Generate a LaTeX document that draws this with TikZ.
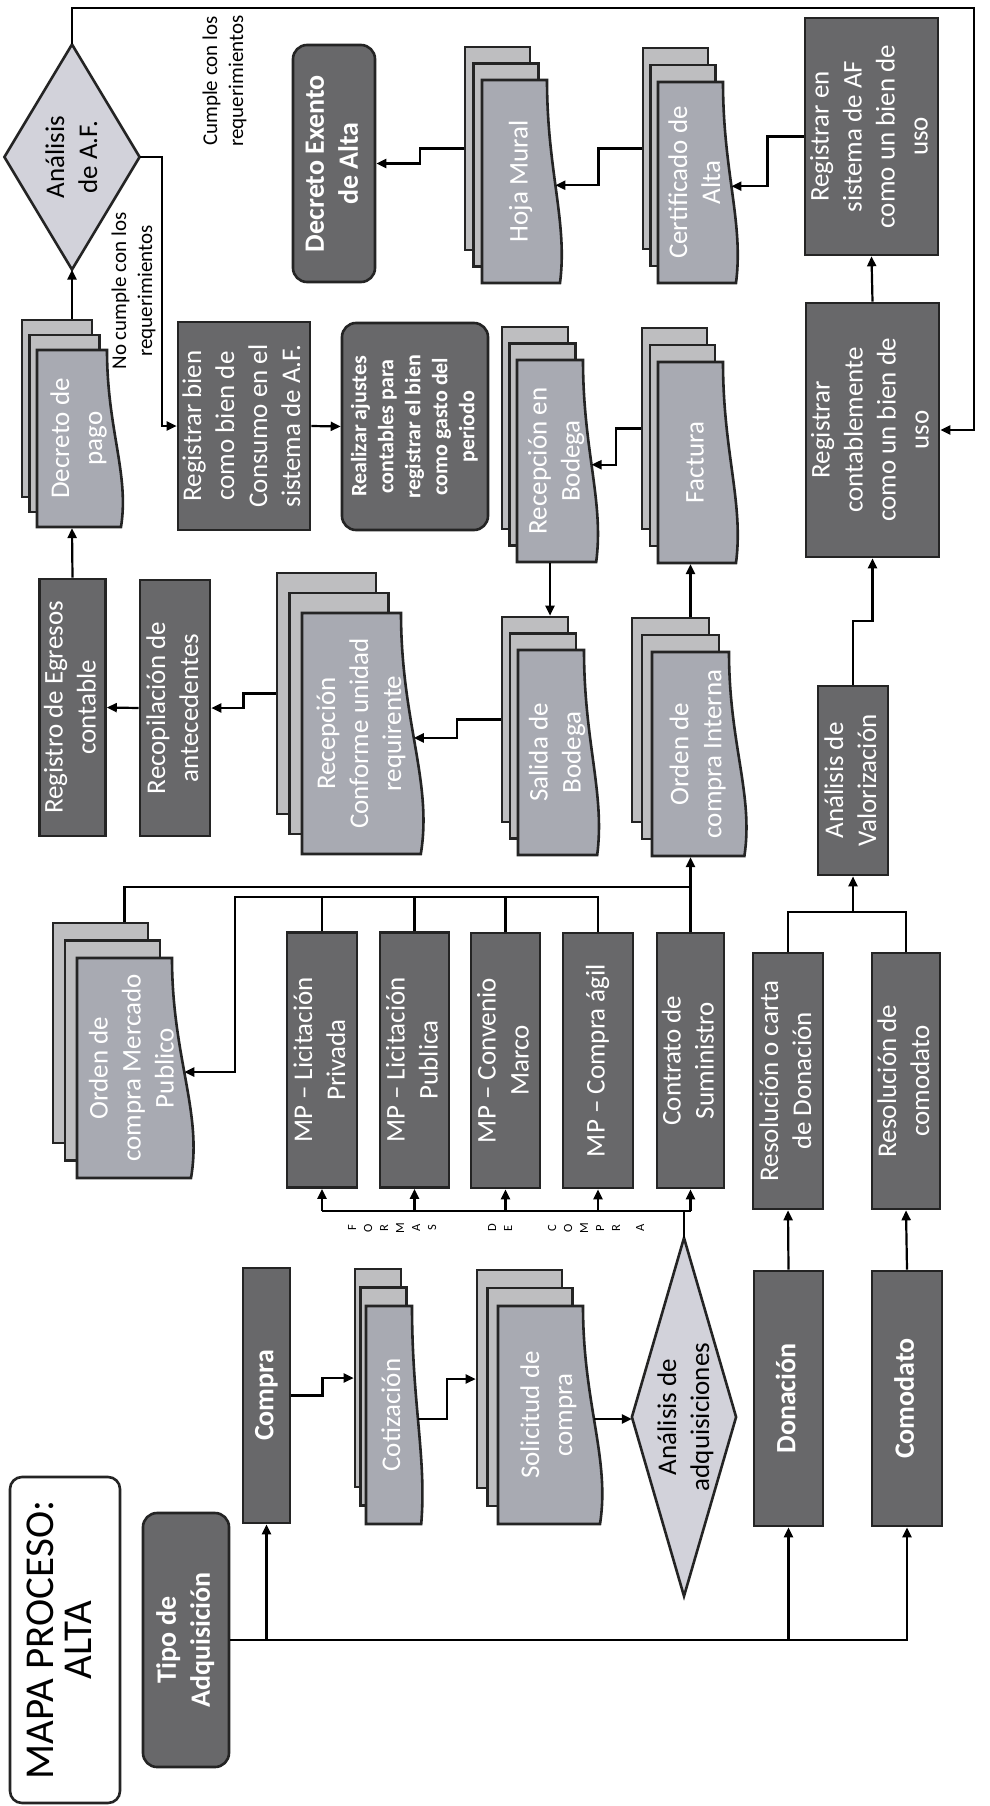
\documentclass[tikz,border=0pt]{standalone}
\usepackage{fontspec}
\setmainfont{Carlito}
\usepackage{graphicx}
\usetikzlibrary{arrows.meta,calc}

\definecolor{boxgray}{RGB}{104,104,106}
\definecolor{docgray}{RGB}{168,170,178}
\definecolor{pagegray}{RGB}{190,190,192}
\definecolor{diagray}{RGB}{210,210,218}
\definecolor{edge}{RGB}{36,36,36}

\newcommand{\vt}[1]{\rotatebox{90}{\begin{tabular}{@{}c@{}}#1\end{tabular}}}
% stack of three pages: name, front x1, y1, x2, y2, page offset dx, dy, text
\newcommand{\docstack}[8]{%
  \pgfmathsetmacro{\docw}{#4-#2}%
  \pgfmathsetmacro{\doch}{#5-#3}%
  \pgfmathsetmacro{\doce}{0.2*\docw}%
  \node[page, sz={\docw}{\doch}] (#1-b) at ({(#2+#4)/2-2*#6},{(#3+#5)/2-2*#7}) {};
  \node[page, sz={\docw}{\doch}] (#1-m) at ({(#2+#4)/2-#6},{(#3+#5)/2-#7}) {};
  \draw[docfront] (#2,#3) -- (#4,#3)
    .. controls (#4,{#3+0.45*\doch}) and ({#4+1.6*\doce},{#3+0.7*\doch})
    .. node[coordinate, pos=0.46] (#1-w) {} ({#4+\doce},#5) -- (#2,#5) -- cycle;
  \node[inner sep=0pt, sz={\docw}{\doch}] (#1) at ({(#2+#4)/2},{(#3+#5)/2}) {};
  \node[doctext] (#1-t) at ({(#2+#4)/2+\doce/2},{(#3+#5)/2}) {\vt{#8}};
}

\begin{document}
\begin{tikzpicture}[
  x=1pt, y=-1pt,
  >={Triangle[length=10pt,width=9pt]},
  line width=2.2pt,
  font=\fontsize{27}{33}\selectfont,
  sz/.style 2 args={minimum width=#1pt, minimum height=#2pt},
  box/.style={draw=edge, line width=2.6pt, fill=boxgray, text=white, inner sep=0pt},
  rbox/.style={box, rounded corners=14pt},
  btxt/.style={font=\fontsize{28}{34}\selectfont\bfseries},
  page/.style={draw=edge, line width=2.6pt, fill=pagegray, inner sep=0pt},
  docfront/.style={draw=edge, line width=2.6pt, fill=docgray},
  doctext/.style={text=white, inner sep=0pt},
  dia/.style={draw=edge, line width=2.6pt, fill=diagray},
  lab/.style={text=black, inner sep=0pt},
  hvh/.style={to path={-| ($(\tikztostart)!0.5!(\tikztotarget)$) |- (\tikztotarget) \tikztonodes}}
]
\path[use as bounding box, fill=white] (0,0) rectangle (989,1806);

\node[rbox, sz={110}{326}, fill=white, text=black, rounded corners=12pt,
      font=\fontsize{41}{38}\selectfont] (mapa) at (65,1640) {\vt{MAPA PROCESO:\\ALTA}};
\node[rbox, btxt, sz={86}{254}] (tipo) at (186,1640) {\vt{Tipo de\\Adquisición}};
\node[box, btxt, sz={47}{255}] (compra) at (266.5,1395.5) {\vt{Compra}};
\node[box, btxt, sz={69}{255}] (donacion) at (788.5,1398.5) {\vt{Donación}};
\node[box, btxt, sz={70}{255}] (comodato) at (907,1398.5) {\vt{Comodato}};

\docstack{coti}{366}{1306}{412}{1524}{5.5}{18.5}{Cotización}
\docstack{sol}{498}{1306}{583}{1524}{10.5}{18}{Solicitud de\\compra}

\node[inner sep=0pt, sz={102}{356}] (adq) at (684,1417) {};
\draw[dia] (adq.north) -- (adq.east) -- (adq.south) -- (adq.west) -- cycle;
\node[lab] (adq-t) at (686,1417) {\vt{Análisis de\\adquisiciones}};

\node[box, sz={70}{255}] (mp1) at (322,1060) {\vt{MP – Licitación\\Privada}};
\node[box, sz={69}{255}] (mp2) at (414.5,1060) {\vt{MP – Licitación\\Publica}};
\node[box, sz={69}{255}] (mp3) at (505.5,1060.5) {\vt{MP – Convenio\\Marco}};
\node[box, sz={70}{255}] (mp4) at (598,1060.5) {\vt{MP – Compra ágil}};
\node[box, sz={67}{255}] (contrato) at (690.5,1060.5) {\vt{Contrato de\\Suministro}};
\node[box, sz={70}{256}] (rdon) at (788,1081) {\vt{Resolución o carta\\de Donación}};
\node[box, sz={68}{256}] (rcom) at (906,1081) {\vt{Resolución de\\comodato}};
\node[lab, font=\fontsize{12.5}{16}\selectfont] (formas) at (497,1228)
  {\vt{F\\O\\R\\M\\A\\S\\[44pt]D\\E\\[28pt]C\\O\\M\\P\\R\\[8pt]A}};

\docstack{ocmp}{77}{958}{172}{1178}{12}{17.5}{Orden de\\compra Mercado\\Publico}
\docstack{rconf}{302}{613}{401}{854}{12.5}{20}{Recepción\\Conforme unidad\\requirente}
\docstack{salida}{518}{650}{584}{855}{8}{16.5}{Salida de\\Bodega}
\docstack{ocint}{652}{652}{729}{856}{10}{17}{Orden de\\compra Interna}
\docstack{rbod}{517}{360}{583}{562}{7.5}{16.5}{Recepción en\\Bodega}
\docstack{factura}{658}{362}{723}{563}{8}{17}{Factura}
\docstack{dpago}{37}{350}{107}{527}{7.5}{15}{Decreto de\\pago}
\docstack{hoja}{482}{80}{547}{283}{8.5}{16.5}{Hoja Mural}
\docstack{cert}{658}{82}{723}{283}{7.5}{17}{Certificado de\\Alta}

\node[box, sz={63}{257}] (regeg) at (72.5,707.5) {\vt{Registro de Egresos\\contable}};
\node[box, sz={70}{256}] (recop) at (175,708) {\vt{Recopilación de\\antecedentes}};
\node[box, sz={70}{189}] (aval) at (853,780.5) {\vt{Análisis de\\Valorización}};
\node[box, sz={128}{208}] (rbc) at (244,426) {\vt{Registrar bien\\como bien de\\Consumo en el\\sistema de A.F.}};
\node[rbox, sz={146}{207}, font=\fontsize{22}{27}\selectfont\bfseries] (ajustes) at (415,426.5)
  {\vt{Realizar ajustes\\contables para\\registrar el bien\\como gasto del\\periodo}};
\node[box, sz={133}{254}] (rcont) at (872.5,430) {\vt{Registrar\\contablemente\\como un bien de\\uso}};
\node[box, sz={133}{237}] (rsis) at (871.5,136.5) {\vt{Registrar en\\sistema de AF\\como un bien de\\uso}};
\node[rbox, btxt, sz={82}{237}] (dexento) at (334,163.5) {\vt{Decreto Exento\\de Alta}};

\node[inner sep=0pt, sz={133}{223}] (af) at (72,157) {};
\draw[dia] (af.north) -- (af.east) -- (af.south) -- (af.west) -- cycle;
\node[lab] (af-t) at (74,157) {\vt{Análisis\\de A.F.}};
\node[lab, font=\fontsize{21}{26}\selectfont] (cumple) at (225,81) {\vt{Cumple con los\\requerimientos}};
\node[lab, font=\fontsize{21}{26}\selectfont] (nocumple) at (134,291) {\vt{No cumple con los\\requerimientos}};

\draw[->] (tipo.east) -| (comodato.south);
\draw[->] (tipo.east -| compra) -- (compra.south);
\draw[->] (tipo.east -| donacion) -- (donacion.south);
\draw[->] (donacion.north) -- (rdon.south);
\draw[->] (comodato.north) -- (rcom.south);
\draw[->] (compra.east) to[hvh] (coti-b.west);
\draw[->] (coti-w) to[hvh] (sol-b.west);
\draw[->] (sol-w) -- (sol-w -| adq.west);

\coordinate (fc) at ([yshift=27pt]adq.north);
\draw (adq.north) -- (fc) (fc -| mp1) -- (fc -| contrato);
\foreach \n in {mp1,mp2,mp3,mp4,contrato}
  \draw[->] (fc -| \n) -- (\n.south);

\coordinate (fb) at ([yshift=35pt]mp4.north);
\foreach \n in {mp1,mp2,mp3}
  \draw (\n.north) -- (\n.north |- fb);
\draw[->] (mp4.north) -- (fb) -| ($(ocmp-w)!0.5!(mp1.west)$) |- (ocmp-w);

\coordinate (fa) at ([yshift=35pt]ocmp-b.north);
\draw (ocmp-b.north -| ocmp) -- (fa -| ocmp) -| (contrato.north);
\draw[->] (contrato.north) -- (ocint.south);
\draw[->] (ocint-b.north -| ocint) -- (factura.south);
\draw[->] (factura-b.west) to[hvh] (rbod-w);
\draw[->] (rbod.south) -- (salida-b.north -| rbod);
\draw[->] (salida-b.west) to[hvh] (rconf-w);
\draw[->] (rconf-b.west) to[hvh] (recop.east);
\draw[->] (recop.west) -- (regeg.east);
\draw[->] (regeg.north) -- (dpago.south);
\draw[->] (dpago-b.north -| af) -- (af.south);

\draw[->] (af.east) -- ++(22,0) |- (rbc.west);
\draw[->] (rbc.east) -- (ajustes.west);
\draw[->] (af.north) -- ++(0,-36) -| ([xshift=34pt]rcont.east) -- (rcont.east);

\coordinate (jres) at ([yshift=40pt]rdon.north);
\draw (rdon.north) -- (jres) -| (rcom.north);
\draw[->] (jres -| aval) -- (aval.south);
\draw[->] (aval.north) -- ++(0,-64) -| (rcont.south);
\draw[->] (rcont.north) -- (rsis.south);
\draw[->] (rsis.west) to[hvh] (cert-w);
\draw[->] (cert-b.west) to[hvh] (hoja-w);
\draw[->] (hoja-b.west) to[hvh] (dexento.east);

\end{tikzpicture}
\end{document}
